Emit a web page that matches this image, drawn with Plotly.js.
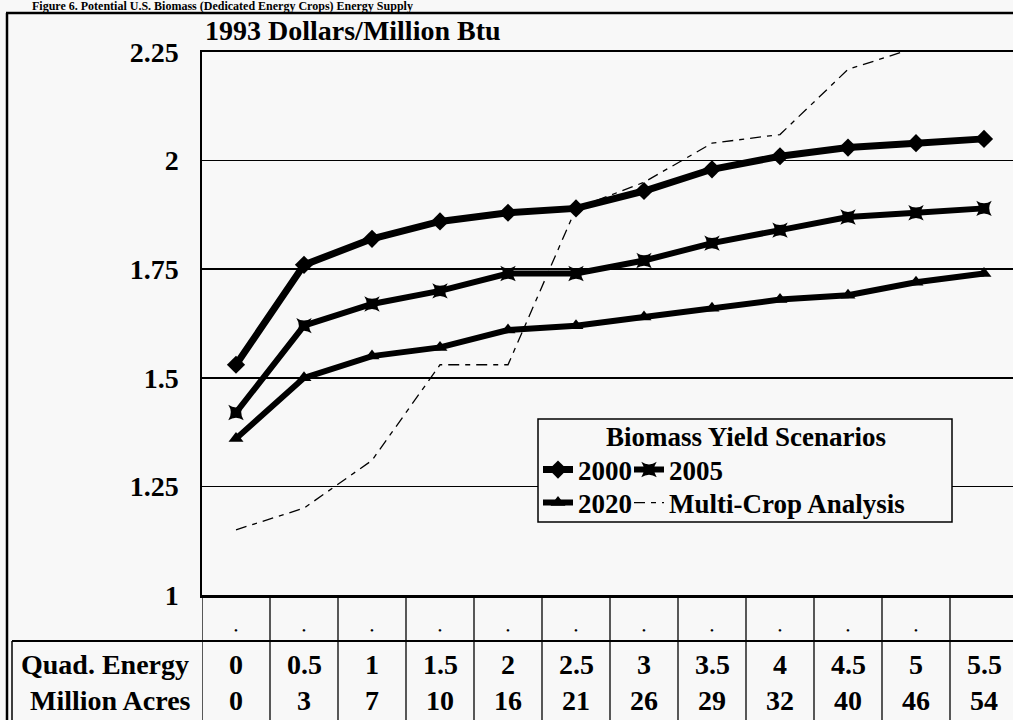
<!DOCTYPE html>
<html><head><meta charset="utf-8">
<script src="https://cdn.plot.ly/plotly-3.0.1.min.js"></script>
<style>html,body{margin:0;padding:0;background:#f8f8f8;overflow:hidden}</style>
</head><body><div id="chart" style="width:1013px;height:720px"></div>
<script>
// ---- data ----
const quadEnergy = ['0','0.5','1','1.5','2','2.5','3','3.5','4','4.5','5','5.5'];
const millionAcres = ['0','3','7','10','16','21','26','29','32','40','46','54'];
const dotLabels = ['•','•','•','•','•','•','•','•','•','•','•',''];
const y2000 = [1.53,1.76,1.82,1.86,1.88,1.89,1.93,1.98,2.01,2.03,2.04,2.05];
const y2005 = [1.42,1.62,1.67,1.70,1.74,1.74,1.77,1.81,1.84,1.87,1.88,1.89];
const y2020 = [1.36,1.50,1.55,1.57,1.61,1.62,1.64,1.66,1.68,1.69,1.72,1.74];
const yMulti = [1.15,1.20,1.31,1.53,1.53,1.89,1.95,2.04,2.06,2.21,2.26,null];
const yTicks = [1,1.25,1.5,1.75,2,2.25];
const yTickText = ['1','1.25','1.5','1.75','2','2.25'];
const headerText = 'Figure 6. Potential U.S. Biomass (Dedicated Energy Crops) Energy Supply';
const unitText = '1993 Dollars/Million Btu';
const legendTitle = 'Biomass Yield Scenarios';
const rowLabels = ['Quad. Energy','Million Acres'];

// ---- layout helpers (pixel -> paper) ----
const W = 1013, H = 720, L = 202, T = 52, B = 125, R = 0;
const PW = W - L - R, PH = H - T - B;
const px = x => (x - L) / PW;
const py = y => (H - B - y) / PH;
const FONT = 'Liberation Serif, Times New Roman, serif';
const BG = '#f8f8f8';

const traces = [
  {x: quadEnergy, y: y2000, name: '2000', mode: 'lines+markers', legend: 'legend', legendwidth: 46,
   line: {color: '#000', width: 7}, marker: {symbol: 'diamond', size: 14, color: '#000'}},
  {x: quadEnergy, y: y2005, name: '2005', mode: 'lines+markers', legend: 'legend',
   line: {color: '#000', width: 6}, marker: {symbol: 'star-square', size: 14, color: '#000'}},
  {x: quadEnergy, y: y2020, name: '2020', mode: 'lines+markers', legend: 'legend2', legendwidth: 46,
   line: {color: '#000', width: 6}, marker: {symbol: 'triangle-up', size: 13, color: '#000'}},
  {x: quadEnergy, y: yMulti, name: 'Multi-Crop Analysis', mode: 'lines', legend: 'legend2',
   line: {color: '#000', width: 1.3, dash: '11px,6px,5px,6px'}}
];

const shapes = [];
// table vertical lines (column boundaries)
for (let i = 0; i < quadEnergy.length; i++) {
  shapes.push({type: 'line', xref: 'x', yref: 'paper', x0: i - 0.5, x1: i - 0.5,
    y0: 0, y1: py(730), line: {color: '#000', width: 1.3}});
}
// table horizontal line
shapes.push({type: 'line', xref: 'paper', yref: 'paper', x0: px(12), x1: 1.01, y0: py(641), y1: py(641),
  line: {color: '#000', width: 2}});
// outer frame
shapes.push({type: 'line', xref: 'paper', yref: 'paper', x0: px(7), x1: px(7), y0: py(730), y1: py(13),
  line: {color: '#000', width: 2.5}});
shapes.push({type: 'line', xref: 'paper', yref: 'paper', x0: px(6), x1: 1.01, y0: py(13), y1: py(13),
  line: {color: '#000', width: 2.5}});
shapes.push({type: 'line', xref: 'paper', yref: 'paper', x0: px(12), x1: px(12), y0: py(641), y1: py(730),
  line: {color: '#000', width: 1.5}});
// legend box
shapes.push({type: 'rect', xref: 'paper', yref: 'paper', layer: 'above',
  x0: px(538), x1: px(952), y0: py(522), y1: py(419),
  fillcolor: BG, line: {color: '#000', width: 1.5}});

const annotations = [
  {text: headerText, xref: 'paper', yref: 'paper', x: px(30), y: py(6), xanchor: 'left', yanchor: 'middle',
   showarrow: false, font: {family: FONT, size: 12, color: '#000', weight: 'bold'}},
  {text: unitText, xref: 'paper', yref: 'paper', x: px(203), y: py(31), xanchor: 'left', yanchor: 'middle',
   showarrow: false, font: {family: FONT, size: 28, color: '#000', weight: 'bold'}},
  {text: legendTitle, xref: 'paper', yref: 'paper', x: px(746), y: py(437), xanchor: 'center', yanchor: 'middle',
   showarrow: false, font: {family: FONT, size: 27, color: '#000', weight: 'bold'}},
  {text: rowLabels[0], xref: 'paper', yref: 'paper', x: px(191), y: py(664), xanchor: 'right', yanchor: 'middle',
   showarrow: false, font: {family: FONT, size: 28, color: '#000', weight: 'bold'}},
  {text: rowLabels[1], xref: 'paper', yref: 'paper', x: px(193), y: py(700), xanchor: 'right', yanchor: 'middle',
   showarrow: false, font: {family: FONT, size: 28, color: '#000', weight: 'bold'}}
];
quadEnergy.forEach((q, i) => {
  annotations.push({text: q, xref: 'x', yref: 'paper', x: i, y: py(664), xanchor: 'center', yanchor: 'middle',
    showarrow: false, font: {family: FONT, size: 28, color: '#000', weight: 'bold'}});
  annotations.push({text: millionAcres[i], xref: 'x', yref: 'paper', x: i, y: py(700), xanchor: 'center', yanchor: 'middle',
    showarrow: false, font: {family: FONT, size: 28, color: '#000', weight: 'bold'}});
});

const legendCommon = {orientation: 'h', xanchor: 'left', yanchor: 'middle', x: px(538),
  bgcolor: 'rgba(0,0,0,0)', borderwidth: 0,
  font: {family: FONT, size: 27, color: '#000', weight: 'bold'}};

const layout = {
  width: W, height: H,
  margin: {l: L, r: R, t: T, b: B, pad: 0},
  paper_bgcolor: BG, plot_bgcolor: BG,
  showlegend: true,
  legend: Object.assign({}, legendCommon, {y: py(470)}),
  legend2: Object.assign({}, legendCommon, {y: py(503)}),
  hovermode: false,
  xaxis: {type: 'category', range: [-0.5, -0.5 + PW / 68], tickvals: quadEnergy, ticktext: dotLabels,
    showgrid: false, zeroline: false, showline: true, linecolor: '#000', linewidth: 2.5, mirror: true,
    ticks: '', ticklabelstandoff: 23, tickfont: {family: FONT, size: 11, color: '#000'}, fixedrange: true},
  yaxis: {range: [1, 2.25], tickvals: yTicks, ticktext: yTickText, showgrid: true, gridcolor: '#000', gridwidth: 1.6,
    zeroline: false, showline: true, linecolor: '#000', linewidth: 1.6, ticks: '', ticklabelstandoff: 16,
    tickfont: {family: FONT, size: 28, color: '#000', weight: 'bold'}, fixedrange: true},
  shapes: shapes,
  annotations: annotations
};

Plotly.newPlot('chart', traces, layout, {displayModeBar: false, staticPlot: true});
</script></body></html>
